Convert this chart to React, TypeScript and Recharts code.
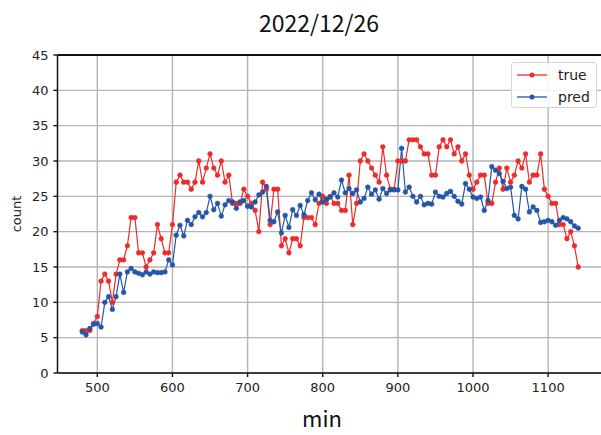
import React from 'react';
import { LineChart, Line, XAxis, YAxis, CartesianGrid, ReferenceLine } from 'recharts';

// counts every 5 minutes, starting at 480 min
const trueCounts = [
  6, 6, 6, 7, 8, 13, 14, 13, 10, 14,
  16, 16, 18, 22, 22, 17, 17, 15, 16, 17,
  21, 19, 17, 17, 21, 27, 28, 27, 27, 26,
  27, 30, 27, 29, 31, 29, 28, 30, 27, 28,
  24, 24, 24, 26, 25, 24, 23, 20, 27, 26,
  21, 26, 26, 18, 19, 17, 19, 19, 18, 22,
  22, 22, 21, 24, 25, 24, 25, 24, 24, 23,
  23, 28, 21, 24, 30, 31, 30, 29, 28, 27,
  32, 28, 26, 26, 30, 30, 30, 33, 33, 33,
  32, 31, 31, 28, 28, 32, 33, 32, 33, 31,
  32, 30, 31, 28, 26, 27, 28, 28, 24, 24,
  27, 29, 26, 29, 27, 28, 30, 29, 31, 27,
  28, 28, 31, 26, 25, 24, 24, 21, 21, 19,
  20, 18, 15,
];

const predCounts = [
  5.8, 5.4, 6.3, 6.9, 7.0, 6.5, 10.0, 10.8, 9.0, 10.8,
  14.0, 11.4, 14.3, 14.8, 14.3, 14.1, 13.9, 14.3, 14.0, 14.3,
  14.2, 14.2, 14.3, 16.0, 15.3, 19.5, 20.9, 19.4, 21.6, 21.0,
  22.1, 22.7, 22.1, 22.7, 25.0, 23.1, 24.0, 22.2, 23.8, 24.4,
  24.2, 23.3, 24.2, 24.4, 23.6, 23.5, 24.2, 25.2, 25.6, 26.4,
  21.6, 21.4, 22.8, 19.8, 22.3, 20.6, 23.1, 22.3, 23.7, 22.4,
  24.4, 25.5, 24.5, 25.3, 24.2, 24.6, 24.9, 25.5, 24.9, 27.3,
  25.5, 26.1, 25.4, 25.9, 24.2, 24.7, 26.3, 25.3, 25.9, 24.6,
  26.1, 25.4, 25.9, 25.9, 25.9, 31.8, 25.6, 26.3, 25.0, 24.2,
  25.0, 23.8, 24.0, 23.9, 25.6, 25.0, 24.9, 25.4, 25.7, 25.0,
  24.3, 23.9, 26.8, 26.0, 24.9, 24.7, 24.9, 23.0, 24.4, 29.2,
  28.7, 28.2, 27.1, 26.1, 26.3, 22.3, 21.8, 26.4, 26.0, 22.8,
  23.5, 23.0, 21.3, 21.4, 21.6, 21.4, 20.9, 21.6, 22.0, 21.8,
  21.4, 20.8, 20.5,
];

const minutes = trueCounts.map((_, i) => 480 + i * 5);
const xTicks = [500, 600, 700, 800, 900, 1000, 1100];
const yTicks = [0, 5, 10, 15, 20, 25, 30, 35, 40, 45];

const data = minutes.map((m, i) => ({ min: m, true: trueCounts[i], pred: predCounts[i] }));

const RED = '#ee2a2a';
const BLUE = '#2456a8';
const TICK_FONT = 'DejaVu Sans, sans-serif';
const LABEL_FONT = '"Noto Sans CJK JP", "Noto Sans", sans-serif';

function LegendBox() {
  const row = (color: string, label: string) => (
    <div style={{ display: 'flex', alignItems: 'center', height: 22 }}>
      <svg width={34} height={10} style={{ marginRight: 8 }}>
        <line x1={1} y1={5} x2={31} y2={5} stroke={color} strokeWidth={1.3} />
        <circle cx={16} cy={5} r={2.5} fill={color} />
      </svg>
      <span>{label}</span>
    </div>
  );
  return (
    <div
      style={{
        position: 'absolute',
        left: 511,
        top: 62,
        width: 86,
        height: 46,
        boxSizing: 'border-box',
        border: '1px solid #d6d6d6',
        borderRadius: 3,
        background: 'rgba(255,255,255,0.85)',
        padding: '1px 0 0 4px',
        fontFamily: TICK_FONT,
        fontSize: 14,
        color: '#222',
      }}
    >
      {row(RED, 'true')}
      {row(BLUE, 'pred')}
    </div>
  );
}

export default function App() {
  return (
    <div
      style={{
        position: 'absolute',
        left: 0,
        top: 0,
        width: 601,
        height: 435,
        overflow: 'hidden',
        background: '#fff',
      }}
    >
      <div
        style={{
          position: 'absolute',
          left: 219,
          width: 200,
          top: 8,
          lineHeight: '28px',
          textAlign: 'center',
          fontFamily: LABEL_FONT,
          fontSize: 23,
          color: '#111',
        }}
      >
        2022/12/26
      </div>
      <LineChart
        width={606}
        height={435}
        data={data}
        margin={{ top: 55, right: 3, bottom: 32, left: 0 }}
      >
        <CartesianGrid stroke="#b4b4b4" strokeWidth={1.4} />
        <XAxis
          dataKey="min"
          type="number"
          domain={[447, 1173]}
          ticks={xTicks}
          allowDataOverflow
          height={30}
          stroke="#111"
          strokeWidth={1.4}
          tickSize={4}
          tickMargin={6}
          tick={{ fill: '#222', fontSize: 13, fontFamily: TICK_FONT }}
        />
        <YAxis
          type="number"
          domain={[0, 45]}
          ticks={yTicks}
          width={57.5}
          stroke="#111"
          strokeWidth={1.4}
          tickSize={4}
          tickMargin={5}
          tick={{ fill: '#222', fontSize: 13, fontFamily: TICK_FONT }}
        />
        <ReferenceLine y={45} stroke="#111" strokeWidth={1.8} />
        <Line
          dataKey="true"
          type="linear"
          stroke={RED}
          strokeWidth={1.2}
          dot={{ r: 2.4, fill: RED, stroke: RED, strokeWidth: 0.5 }}
          activeDot={false}
          isAnimationActive={false}
        />
        <Line
          dataKey="pred"
          type="linear"
          stroke={BLUE}
          strokeWidth={1.2}
          dot={{ r: 2.4, fill: BLUE, stroke: BLUE, strokeWidth: 0.5 }}
          activeDot={false}
          isAnimationActive={false}
        />
      </LineChart>
      <div
        style={{
          position: 'absolute',
          left: 6,
          top: 214,
          transform: 'translate(-50%, -50%) rotate(-90deg)',
          marginLeft: 10,
          fontFamily: TICK_FONT,
          fontSize: 13,
          color: '#222',
        }}
      >
        count
      </div>
      <div
        style={{
          position: 'absolute',
          left: 222,
          width: 200,
          top: 406,
          lineHeight: '22px',
          textAlign: 'center',
          fontFamily: LABEL_FONT,
          fontSize: 22,
          color: '#111',
        }}
      >
        min
      </div>
      <LegendBox />
    </div>
  );
}
